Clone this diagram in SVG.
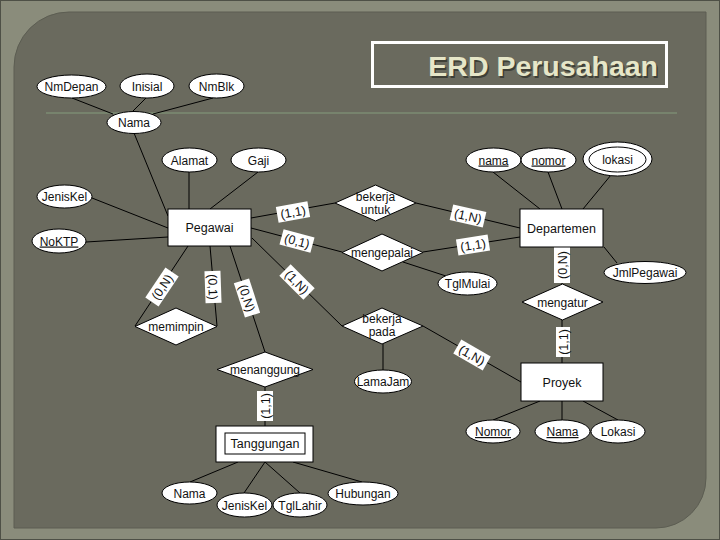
<svg xmlns="http://www.w3.org/2000/svg" width="720" height="540" viewBox="0 0 720 540">
<style>
.n{fill:#fff;stroke:#000;stroke-width:1}
.t{font-family:"Liberation Sans",Arial,sans-serif;font-size:12px;fill:#111;text-anchor:middle}
.e{font-size:12.5px}
.u{text-decoration:underline}
.c line{stroke:#000;stroke-width:1}
.lb rect{fill:#fff;stroke:none}
.lb text{font-size:12.5px}
</style>
<rect x="0" y="0" width="720" height="540" fill="#8a8c7b"/>
<rect x="0.5" y="0.5" width="719" height="539" fill="none" stroke="#4e5046" stroke-width="1"/>
<path d="M14,67 A55,55 0 0 1 69,12 L706,12 L706,478 A50,50 0 0 1 656,528 L14,528 Z" fill="#6a6a5e" stroke="#5c5d52" stroke-width="1"/>
<line x1="46" y1="113" x2="677" y2="113" stroke="#7d8c73" stroke-width="1.5"/>
<g id="title">
<rect x="372.5" y="42.5" width="294" height="44" fill="none" stroke="#fff" stroke-width="3"/>
<text x="659.5" y="77.5" font-family="Liberation Sans,Arial,sans-serif" font-weight="bold" font-size="28.5" text-anchor="end" fill="#3e3f36">ERD Perusahaan</text>
<text x="658" y="76" font-family="Liberation Sans,Arial,sans-serif" font-weight="bold" font-size="28.5" text-anchor="end" fill="#e6e6c8">ERD Perusahaan</text>
</g>
<g id="connectors" class="c">
<line x1="72" y1="98" x2="113" y2="114"/>
<line x1="146" y1="98" x2="133" y2="111"/>
<line x1="213" y1="98" x2="153" y2="114"/>
<line x1="134" y1="133" x2="168" y2="216"/>
<line x1="189" y1="172" x2="189" y2="209"/>
<line x1="258" y1="172" x2="210" y2="209"/>
<line x1="92" y1="198" x2="168" y2="228"/>
<line x1="86" y1="242" x2="168" y2="237"/>
<line x1="251" y1="218" x2="335" y2="203"/>
<line x1="251" y1="228" x2="342" y2="252"/>
<line x1="252" y1="238" x2="342" y2="326"/>
<line x1="188" y1="246" x2="135" y2="326"/>
<line x1="210" y1="246" x2="217" y2="326"/>
<line x1="230" y1="246" x2="265" y2="352"/>
<line x1="265" y1="387" x2="265" y2="426"/>
<line x1="238" y1="462" x2="190" y2="482"/>
<line x1="265" y1="462" x2="244" y2="493"/>
<line x1="265" y1="462" x2="300" y2="493"/>
<line x1="293" y1="462" x2="362" y2="482"/>
<line x1="383" y1="344" x2="383" y2="370"/>
<line x1="416" y1="203" x2="520" y2="228"/>
<line x1="423" y1="252" x2="520" y2="237"/>
<line x1="403" y1="262" x2="446" y2="276"/>
<line x1="493" y1="172" x2="540" y2="209"/>
<line x1="548" y1="172" x2="562" y2="209"/>
<line x1="611" y1="175" x2="583" y2="209"/>
<line x1="604" y1="247" x2="617" y2="263"/>
<line x1="562" y1="247" x2="562" y2="284"/>
<line x1="562" y1="320" x2="562" y2="363"/>
<line x1="423" y1="326" x2="521" y2="382"/>
<line x1="540" y1="401" x2="493" y2="420"/>
<line x1="562" y1="401" x2="562" y2="420"/>
<line x1="583" y1="401" x2="618" y2="420"/>
</g>
<g id="labels" class="lb">
<g transform="translate(293,212) rotate(-10)"><rect x="-16" y="-8" width="32" height="16"/><text class="t" y="4.5">(1,1)</text></g>
<g transform="translate(297,241) rotate(15)"><rect x="-16" y="-8" width="32" height="16"/><text class="t" y="4.5">(0,1)</text></g>
<g transform="translate(297,282) rotate(45)"><rect x="-17" y="-8" width="34" height="16"/><text class="t" y="4.5">(1,N)</text></g>
<g transform="translate(162,287) rotate(-56)"><rect x="-18" y="-8" width="36" height="16"/><text class="t" y="4.5">(0,N)</text></g>
<g transform="translate(213,287) rotate(88)"><rect x="-16" y="-8" width="32" height="16"/><text class="t" y="4.5">(0,1)</text></g>
<g transform="translate(247,298) rotate(72)"><rect x="-18" y="-8" width="36" height="16"/><text class="t" y="4.5">(0,N)</text></g>
<g transform="translate(468,216) rotate(13)"><rect x="-17" y="-8" width="34" height="16"/><text class="t" y="4.5">(1,N)</text></g>
<g transform="translate(473,245) rotate(-9)"><rect x="-16" y="-8" width="32" height="16"/><text class="t" y="4.5">(1,1)</text></g>
<g transform="translate(472,355) rotate(30)"><rect x="-17" y="-8" width="34" height="16"/><text class="t" y="4.5">(1,N)</text></g>
<g transform="translate(562,265) rotate(-90)"><rect x="-18" y="-8" width="36" height="16"/><text class="t" y="4.5">(0,N)</text></g>
<g transform="translate(563,342) rotate(-90)"><rect x="-15" y="-7" width="30" height="14"/><text class="t" y="4.5">(1,1)</text></g>
<g transform="translate(265,406) rotate(-90)"><rect x="-15" y="-8" width="30" height="16"/><text class="t" y="4.5">(1,1)</text></g>
</g>
<g id="NmDepan"><ellipse class="n" cx="71.5" cy="86.5" rx="34.5" ry="11.5"/><text class="t" x="71.5" y="91">NmDepan</text></g>
<g id="Inisial"><ellipse class="n" cx="147" cy="86" rx="27" ry="12"/><text class="t" x="147" y="90.5">Inisial</text></g>
<g id="NmBlk"><ellipse class="n" cx="216.5" cy="86" rx="27.5" ry="12"/><text class="t" x="216.5" y="90.5">NmBlk</text></g>
<g id="Nama"><ellipse class="n" cx="134" cy="122.5" rx="27" ry="11"/><text class="t" x="134" y="127">Nama</text></g>
<g id="Alamat"><ellipse class="n" cx="189.5" cy="160" rx="27.5" ry="12"/><text class="t" x="189.5" y="164.5">Alamat</text></g>
<g id="Gaji"><ellipse class="n" cx="258.5" cy="160" rx="27.5" ry="12"/><text class="t" x="258.5" y="164.5">Gaji</text></g>
<g id="JenisKel"><ellipse class="n" cx="64.5" cy="196.5" rx="27.5" ry="11.5"/><text class="t" x="64.5" y="201">JenisKel</text></g>
<g id="NoKTP"><ellipse class="n" cx="59" cy="241" rx="27" ry="12"/><text class="t u" x="59" y="245.5">NoKTP</text></g>
<g id="Pegawai"><rect class="n" x="168" y="209" width="83" height="37"/><text class="t e" x="209.5" y="232">Pegawai</text></g>
<g id="bekerja_untuk"><polygon class="n" points="335,203 375.5,185 416,203 375.5,221"/><text class="t" x="375.5" y="201">bekerja</text><text class="t" x="375.5" y="214">untuk</text></g>
<g id="mengepalai"><polygon class="n" points="342,252.5 382,234 423,252.5 382,271"/><text class="t" x="382" y="257">mengepalai</text></g>
<g id="TglMulai"><ellipse class="n" cx="467.5" cy="283.5" rx="29.5" ry="11.5"/><text class="t" x="467.5" y="288">TglMulai</text></g>
<g id="memimpin"><polygon class="n" points="135,326.5 176,308 217,326.5 176,345"/><text class="t" x="176" y="331">memimpin</text></g>
<g id="bekerja_pada"><polygon class="n" points="342,326 382,308 423,326 382,344"/><text class="t" x="382" y="323">bekerja</text><text class="t" x="382" y="336">pada</text></g>
<g id="LamaJam"><ellipse class="n" cx="383" cy="381.5" rx="28.5" ry="11.5"/><text class="t" x="383" y="386">LamaJam</text></g>
<g id="menanggung"><polygon class="n" points="217,369.5 265,352 313,369.5 265,387"/><text class="t" x="265" y="374">menanggung</text></g>
<g id="Tanggungan"><rect class="n" x="216" y="426" width="97" height="36"/><rect class="n" x="225" y="433" width="80" height="21"/><text class="t e" x="265" y="448">Tanggungan</text></g>
<g id="T_Nama"><ellipse class="n" cx="189.5" cy="493" rx="27.5" ry="11"/><text class="t" x="189.5" y="497.5">Nama</text></g>
<g id="T_JenisKel"><ellipse class="n" cx="244.5" cy="505" rx="27.5" ry="12"/><text class="t" x="244.5" y="509.5">JenisKel</text></g>
<g id="TglLahir"><ellipse class="n" cx="300" cy="505" rx="27" ry="12"/><text class="t" x="300" y="509.5">TglLahir</text></g>
<g id="Hubungan"><ellipse class="n" cx="363" cy="493.5" rx="35" ry="11.5"/><text class="t" x="363" y="498">Hubungan</text></g>
<g id="D_nama"><ellipse class="n" cx="493.5" cy="160" rx="27.5" ry="12"/><text class="t u" x="493.5" y="164.5">nama</text></g>
<g id="D_nomor"><ellipse class="n" cx="548.5" cy="160" rx="27.5" ry="12"/><text class="t u" x="548.5" y="164.5">nomor</text></g>
<g id="lokasi"><ellipse class="n" cx="617.5" cy="159" rx="34.5" ry="17"/><ellipse class="n" cx="617.5" cy="159.5" rx="28.5" ry="12.5"/><text class="t" x="617.5" y="164">lokasi</text></g>
<g id="Departemen"><rect class="n" x="520" y="209" width="83" height="38"/><text class="t e" x="561.5" y="232.5">Departemen</text></g>
<g id="JmlPegawai"><ellipse class="n" cx="645" cy="272.5" rx="41" ry="11"/><text class="t" x="645" y="277">JmlPegawai</text></g>
<g id="mengatur"><polygon class="n" points="522,302 562.5,284 603,302 562.5,320"/><text class="t" x="562.5" y="306.5">mengatur</text></g>
<g id="Proyek"><rect class="n" x="521" y="363" width="82" height="38"/><text class="t e" x="562" y="386.5">Proyek</text></g>
<g id="P_Nomor"><ellipse class="n" cx="493" cy="431.5" rx="27" ry="11.5"/><text class="t u" x="493" y="436">Nomor</text></g>
<g id="P_Nama"><ellipse class="n" cx="562.5" cy="431.5" rx="27.5" ry="11.5"/><text class="t u" x="562.5" y="436">Nama</text></g>
<g id="P_Lokasi"><ellipse class="n" cx="618" cy="431.5" rx="27" ry="11.5"/><text class="t" x="618" y="436">Lokasi</text></g>
</svg>
